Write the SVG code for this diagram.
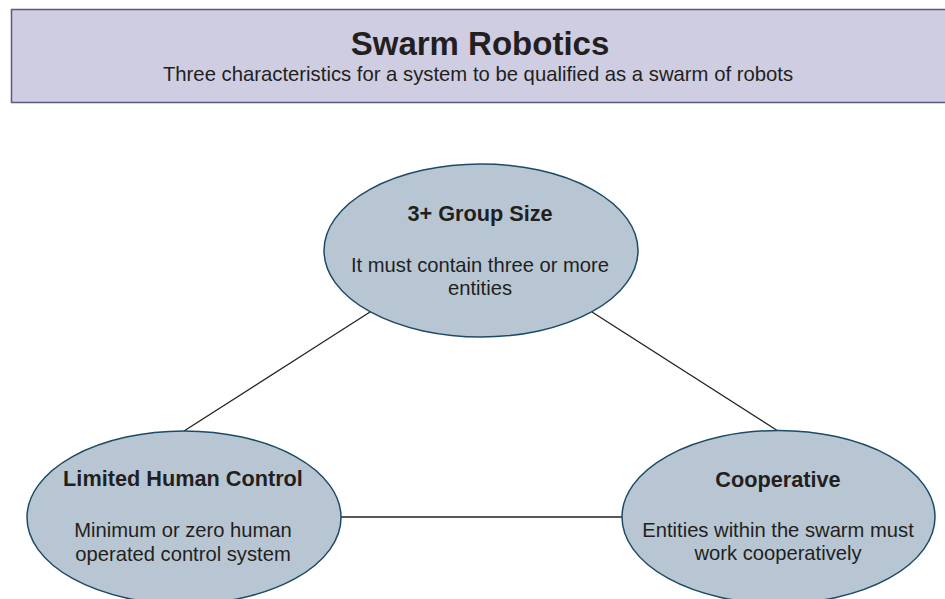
<svg xmlns="http://www.w3.org/2000/svg" width="945" height="599" viewBox="0 0 945 599">
  <style>
    .hdr { fill: #cfcde2; stroke: #5b5787; stroke-width: 1.5; }
    .node { fill: #b8c6d3; stroke: #1c4b66; stroke-width: 1.5; }
    .link { stroke: #231f20; stroke-width: 1.3; fill: none; }
    text { font-family: "Liberation Sans", Arial, sans-serif; fill: #231f20; text-anchor: middle; }
    .title { font-size: 33px; font-weight: bold; }
    .sub { font-size: 20.3px; }
    .nt { font-size: 21.7px; font-weight: bold; }
    .nb { font-size: 20.2px; }
  </style>

  <g id="header">
    <rect class="hdr" x="11.5" y="9.5" width="940" height="93"/>
    <text class="title" x="480" y="55">Swarm Robotics</text>
    <text class="sub" x="478" y="81">Three characteristics for a system to be qualified as a swarm of robots</text>
  </g>

  <g id="connectors">
    <line class="link" x1="370" y1="312" x2="184" y2="431"/>
    <line class="link" x1="592" y1="312" x2="778" y2="431"/>
    <line class="link" x1="340" y1="517" x2="623" y2="517"/>
  </g>

  <g id="group-size">
    <ellipse class="node" cx="481" cy="250.5" rx="157" ry="86.5"/>
    <text class="nt" x="480" y="221">3+ Group Size</text>
    <text class="nb" x="480" y="272">It must contain three or more</text>
    <text class="nb" x="480" y="295">entities</text>
  </g>

  <g id="human-control">
    <ellipse class="node" cx="184" cy="517.5" rx="157" ry="86.5"/>
    <text class="nt" x="183" y="486">Limited Human Control</text>
    <text class="nb" x="183" y="537">Minimum or zero human</text>
    <text class="nb" x="183" y="561">operated control system</text>
  </g>

  <g id="cooperative">
    <ellipse class="node" cx="778.5" cy="517" rx="156.5" ry="86.5"/>
    <text class="nt" x="778" y="487">Cooperative</text>
    <text class="nb" x="778" y="537">Entities within the swarm must</text>
    <text class="nb" x="778" y="560">work cooperatively</text>
  </g>
</svg>
